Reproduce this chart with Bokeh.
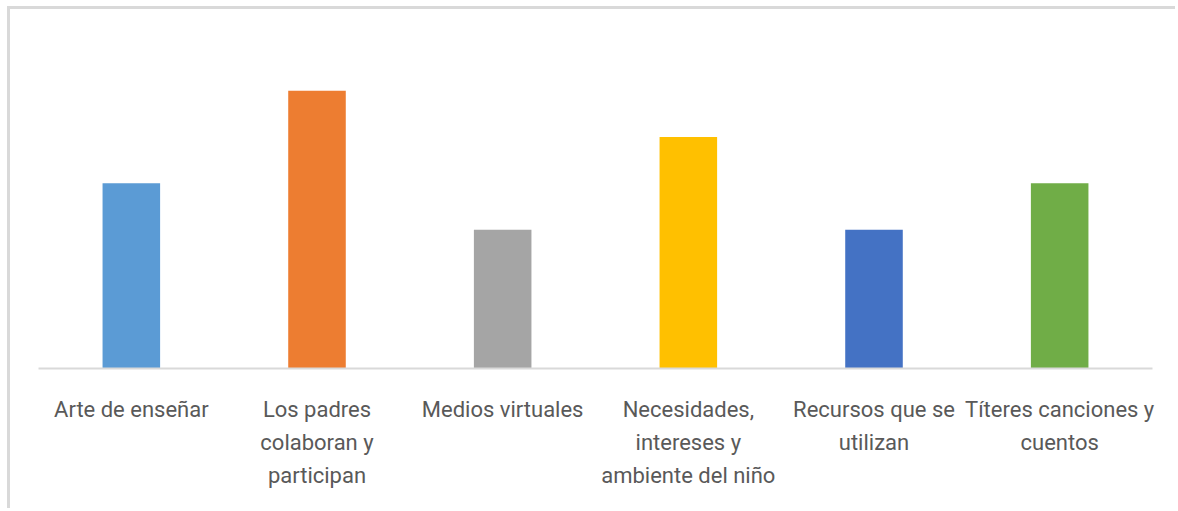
from bokeh.plotting import figure
from bokeh.models import ColumnDataSource, FactorRange, Range1d
from bokeh.embed import file_html
from bokeh.resources import INLINE

categories = [
    "Arte de enseñar",
    "Los padres\ncolaboran y\nparticipan",
    "Medios virtuales",
    "Necesidades,\nintereses y\nambiente del niño",
    "Recursos que se\nutilizan",
    "Títeres canciones y\ncuentos",
]
values = [4, 6, 3, 5, 3, 4]
colors = ["#5B9BD5", "#ED7D31", "#A5A5A5", "#FFC000", "#4472C4", "#70AD47"]

src = ColumnDataSource(dict(cat=categories, val=values, color=colors))

p = figure(
    width=1168, height=502,
    x_range=FactorRange(factors=categories, range_padding=0),
    y_range=Range1d(0, 7),
    output_backend="svg", toolbar_location=None,
    min_border_left=28, min_border_right=26, min_border_top=35, min_border_bottom=143,
)
p.vbar(x="cat", top="val", width=0.31, color="color", line_color=None, source=src)

p.outline_line_color = None
p.grid.visible = False
p.yaxis.visible = False
p.background_fill_color = "white"
p.border_fill_color = "white"

ax = p.xaxis[0]
ax.axis_line_color = "#D9D9D9"
ax.axis_line_width = 2
ax.major_tick_line_color = None
ax.minor_tick_line_color = None
ax.major_label_text_font = "Roboto"
ax.major_label_text_font_size = "22px"
ax.major_label_text_color = "#595959"
ax.major_label_standoff = 22
ax.major_label_text_line_height = 1.33

p.margin = (6, 0, 0, 7)
p.styles = {
    "border-left": "3px solid #D9D9D9",
    "border-top": "3px solid #D9D9D9",
    "border-right": "none",
    "border-bottom": "none",
}

open("out.html", "w").write(file_html(p, INLINE))
